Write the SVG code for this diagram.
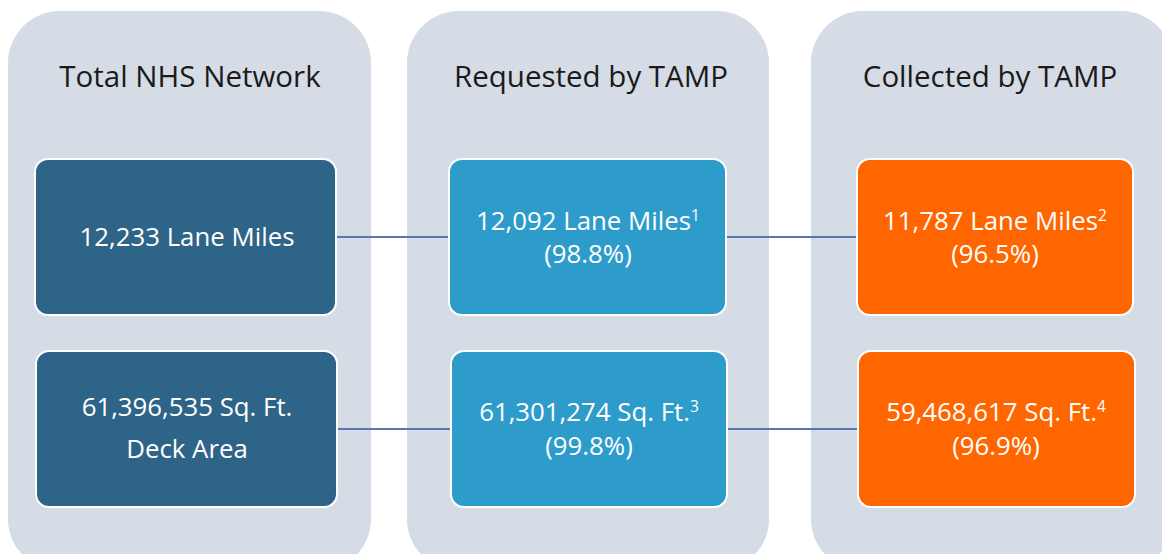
<svg xmlns="http://www.w3.org/2000/svg" width="1162" height="554" viewBox="0 0 1162 554">
<style>
.col{fill:#D5DCE6}
.hdr{font-family:"Open Sans","Noto Sans",sans-serif;font-size:29.5px;fill:#1a1a1a;text-anchor:middle}
.box{stroke:#ffffff;stroke-width:2}
.dark{fill:#2F6489}
.mid{fill:#2E9CCB}
.org{fill:#FF6600}
.lbl{font-family:"Open Sans","Noto Sans",sans-serif;font-size:25.8px;fill:#ffffff;text-anchor:middle}
.sup{font-size:15.5px}
.con{stroke:#5677B4;stroke-width:2;fill:none}
</style>
<rect width="1162" height="554" fill="#ffffff"/>
<g id="col-total">
<rect class="col" x="8" y="11" width="363" height="560" rx="52"/>
<text class="hdr" x="190" y="87">Total NHS Network</text>
</g>
<g id="col-requested">
<rect class="col" x="407" y="11" width="362" height="560" rx="52"/>
<text class="hdr" x="591" y="87">Requested by TAMP</text>
</g>
<g id="col-collected">
<rect class="col" x="811" y="11" width="362" height="560" rx="52"/>
<text class="hdr" x="990" y="87">Collected by TAMP</text>
</g>
<g id="connectors">
<line class="con" x1="337" y1="237" x2="449" y2="237"/>
<line class="con" x1="726" y1="237" x2="857" y2="237"/>
<line class="con" x1="337" y1="429" x2="451" y2="429"/>
<line class="con" x1="727" y1="429" x2="858" y2="429"/>
</g>
<g id="total-lane">
<rect class="box dark" x="35" y="159" width="301" height="156" rx="13"/>
<text class="lbl" x="187" y="246">12,233 Lane Miles</text>
</g>
<g id="total-deck">
<rect class="box dark" x="36" y="351" width="301" height="156" rx="13"/>
<text class="lbl" x="187" y="416">61,396,535 Sq. Ft.</text>
<text class="lbl" x="187" y="458">Deck Area</text>
</g>
<g id="requested-lane">
<rect class="box mid" x="449" y="159" width="277" height="156" rx="13"/>
<text class="lbl" x="588" y="230">12,092 Lane Miles<tspan class="sup" dy="-9">1</tspan></text>
<text class="lbl" x="588" y="263">(98.8%)</text>
</g>
<g id="requested-deck">
<rect class="box mid" x="451" y="351" width="276" height="156" rx="13"/>
<text class="lbl" x="589" y="421">61,301,274 Sq. Ft.<tspan class="sup" dy="-9">3</tspan></text>
<text class="lbl" x="589" y="455">(99.8%)</text>
</g>
<g id="collected-lane">
<rect class="box org" x="857" y="159" width="276" height="156" rx="13"/>
<text class="lbl" x="995" y="230">11,787 Lane Miles<tspan class="sup" dy="-9">2</tspan></text>
<text class="lbl" x="995" y="263">(96.5%)</text>
</g>
<g id="collected-deck">
<rect class="box org" x="858" y="351" width="277" height="156" rx="13"/>
<text class="lbl" x="996" y="421">59,468,617 Sq. Ft.<tspan class="sup" dy="-9">4</tspan></text>
<text class="lbl" x="996" y="455">(96.9%)</text>
</g>
</svg>
